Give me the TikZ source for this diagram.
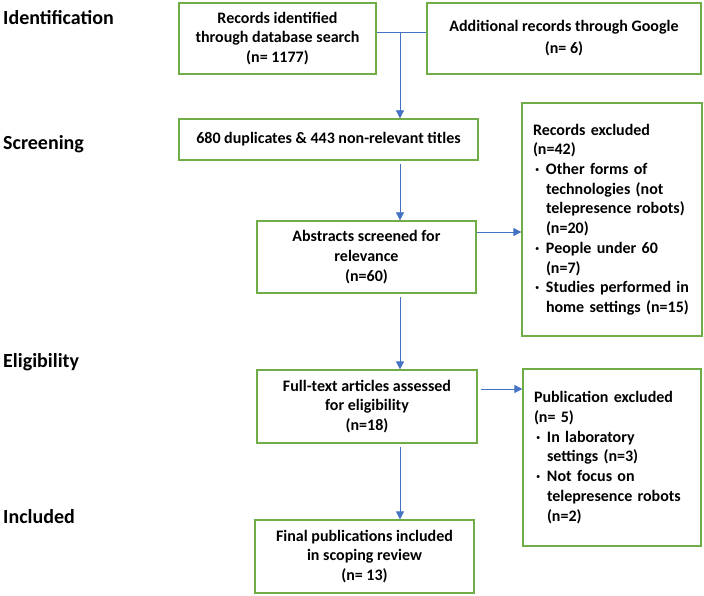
\documentclass[tikz,border=0pt]{standalone}
\usepackage{fontspec}
\setmainfont{Carlito}
\usetikzlibrary{arrows.meta}
\definecolor{boxgreen}{RGB}{112,173,71}
\definecolor{flowblue}{RGB}{68,114,196}
\newcommand{\bul}{\makebox[13pt][l]{\hspace{2pt}·}}
\newcommand{\ind}{\hspace*{13pt}}

\begin{document}
\begin{tikzpicture}[x=1pt,y=-1pt,
  box/.style={draw=boxgreen,line width=1.3pt,align=center,inner sep=0pt,font=\bfseries\fontsize{16}{19.7}\selectfont},
  sidebox/.style={box,align=left,inner xsep=11pt,text width=#1},
  stage/.style={anchor=base west,inner sep=0pt,font=\bfseries\fontsize{20}{24}\selectfont},
  flow/.style={draw=flowblue,line width=0.8pt,-{Triangle[length=8pt,width=8pt]}}]
\useasboundingbox (0,0) rectangle (704,596);
\node[stage] (ident) at (3,25) {Identification};
\node[stage] (screen) at (3,150) {Screening};
\node[stage] (elig) at (3,367) {Eligibility};
\node[stage] (incl) at (3,523) {Included};
\node[box,minimum width=197pt,minimum height=71pt] (db) at (277.5,38.5) {Records identified\\through database search\\(n= 1177)};
\node[box,minimum width=274pt,minimum height=71pt] (google) at (564,38.5) {Additional records through Google\\[2.3pt](n= 6)};
\node[box,minimum width=299pt,minimum height=41pt] (dupl) at (328.5,139.5) {680 duplicates \& 443 non-relevant titles};
\node[box,minimum width=219pt,minimum height=72pt] (abstr) at (366.5,257) {Abstracts screened for\\relevance\\(n=60)};
\node[sidebox=158pt,minimum height=233pt] (recex) at (612,219.5) {Records excluded\\(n=42)\\\bul Other forms of\\\ind technologies (not\\\ind telepresence robots)\\\ind (n=20)\\\bul People under 60\\\ind (n=7)\\\bul Studies performed in\\\ind home settings (n=15)};
\node[box,minimum width=220pt,minimum height=73pt] (full) at (367,406.5) {Full-text articles assessed\\for eligibility\\(n=18)};
\node[sidebox=156pt,minimum height=177pt] (pubex) at (612,457.5) {Publication excluded\\(n= 5)\\\bul In laboratory\\\ind settings (n=3)\\\bul Not focus on\\\ind telepresence robots\\\ind (n=2)};
\node[box,minimum width=219pt,minimum height=73pt] (final) at (364.5,556.5) {Final publications included\\in scoping review\\(n= 13)};
% connectors
\coordinate (join) at (400,32);
\draw[flowblue,line width=0.8pt] (db.east |- join) -- (google.west |- join);
\draw[flow] (join) -- (join |- dupl.north);
\draw[flow,shorten <=3pt] (join |- dupl.south) -- (join |- abstr.north);
\draw[flow,shorten <=3pt] (join |- abstr.south) -- (join |- full.north);
\draw[flow,shorten <=3pt] (join |- full.south) -- (join |- final.north);
\draw[flow] ([yshift=25pt]abstr.east) -- ([yshift=25pt]abstr.east -| recex.west);
\draw[flow,shorten <=3pt] ([yshift=17.5pt]full.east) -- ([yshift=17.5pt]full.east -| pubex.west);
\end{tikzpicture}
\end{document}
